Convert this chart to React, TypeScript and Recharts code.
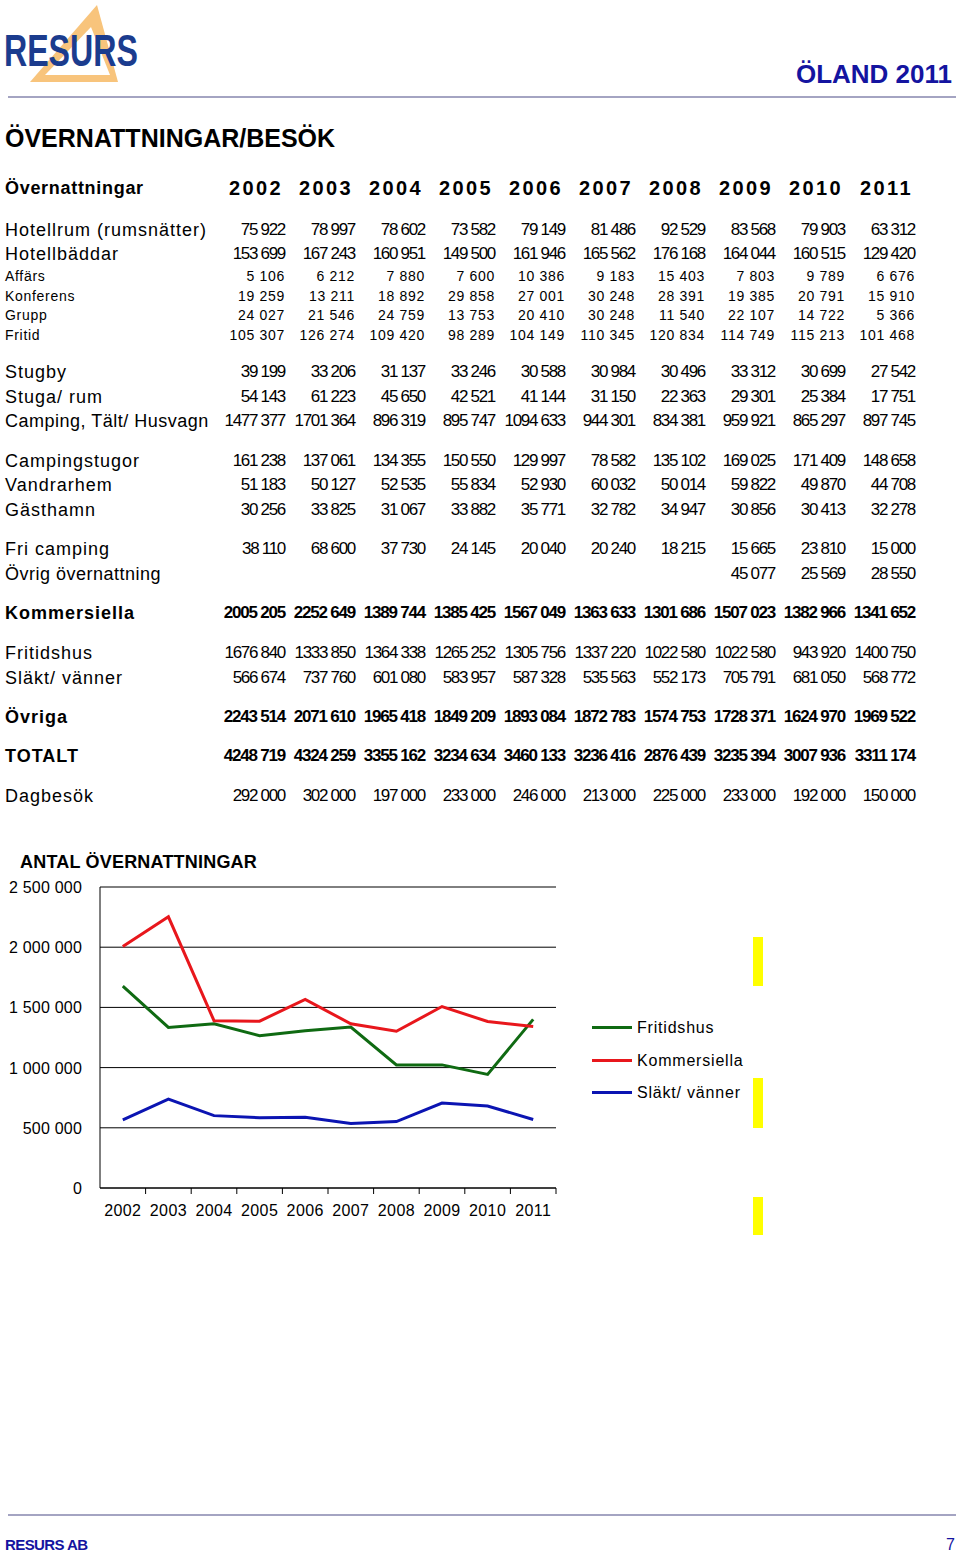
import { LineChart, Line, XAxis, YAxis, CartesianGrid } from 'recharts';

// years shown in the table header and on the chart axis
const years = ['2002', '2003', '2004', '2005', '2006', '2007', '2008', '2009', '2010', '2011'];

// table rows
const hotellrum = [75922, 78997, 78602, 73582, 79149, 81486, 92529, 83568, 79903, 63312];
const hotellbaddar = [153699, 167243, 160951, 149500, 161946, 165562, 176168, 164044, 160515, 129420];
const affars = [5106, 6212, 7880, 7600, 10386, 9183, 15403, 7803, 9789, 6676];
const konferens = [19259, 13211, 18892, 29858, 27001, 30248, 28391, 19385, 20791, 15910];
const grupp = [24027, 21546, 24759, 13753, 20410, 30248, 11540, 22107, 14722, 5366];
const fritid = [105307, 126274, 109420, 98289, 104149, 110345, 120834, 114749, 115213, 101468];
const stugby = [39199, 33206, 31137, 33246, 30588, 30984, 30496, 33312, 30699, 27542];
const stugaRum = [54143, 61223, 45650, 42521, 41144, 31150, 22363, 29301, 25384, 17751];
const camping = [1477377, 1701364, 896319, 895747, 1094633, 944301, 834381, 959921, 865297, 897745];
const campingstugor = [161238, 137061, 134355, 150550, 129997, 78582, 135102, 169025, 171409, 148658];
const vandrarhem = [51183, 50127, 52535, 55834, 52930, 60032, 50014, 59822, 49870, 44708];
const gasthamn = [30256, 33825, 31067, 33882, 35771, 32782, 34947, 30856, 30413, 32278];
const friCamping = [38110, 68600, 37730, 24145, 20040, 20240, 18215, 15665, 23810, 15000];
const ovrigOvernattning = [null, null, null, null, null, null, null, 45077, 25569, 28550];
const kommersiella = [2005205, 2252649, 1389744, 1385425, 1567049, 1363633, 1301686, 1507023, 1382966, 1341652];
const fritidshus = [1676840, 1333850, 1364338, 1265252, 1305756, 1337220, 1022580, 1022580, 943920, 1400750];
const slaktVanner = [566674, 737760, 601080, 583957, 587328, 535563, 552173, 705791, 681050, 568772];
const ovriga = [2243514, 2071610, 1965418, 1849209, 1893084, 1872783, 1574753, 1728371, 1624970, 1969522];
const totalt = [4248719, 4324259, 3355162, 3234634, 3460133, 3236416, 2876439, 3235394, 3007936, 3311174];
const dagbesok = [292000, 302000, 197000, 233000, 246000, 213000, 225000, 233000, 192000, 150000];

// chart
const yTicks = [0, 500000, 1000000, 1500000, 2000000, 2500000];
const seriesNames = ['Fritidshus', 'Kommersiella', 'Släkt/ vänner'];
const seriesColors = ['#0f6a12', '#e8171c', '#0b14b2'];

const chartData = years.map((y, i) => ({
  year: y,
  fritidshus: fritidshus[i],
  kommersiella: kommersiella[i],
  slakt: slaktVanner[i],
}));
const seriesKeys = ['fritidshus', 'kommersiella', 'slakt'];

const FONT = '"Liberation Sans", Arial, sans-serif';
const BLUE = '#1414a0';

type RowStyle = 'big' | 'small' | 'bold';
type Row = { label: string; y: number; values: (number | null)[]; style: RowStyle; tight?: boolean };

const rows: Row[] = [
  { label: 'Hotellrum (rumsnätter)', y: 230, values: hotellrum, style: 'big' },
  { label: 'Hotellbäddar', y: 254, values: hotellbaddar, style: 'big' },
  { label: 'Affärs', y: 276, values: affars, style: 'small' },
  { label: 'Konferens', y: 296, values: konferens, style: 'small' },
  { label: 'Grupp', y: 315, values: grupp, style: 'small' },
  { label: 'Fritid', y: 335, values: fritid, style: 'small' },
  { label: 'Stugby', y: 372, values: stugby, style: 'big' },
  { label: 'Stuga/ rum', y: 397, values: stugaRum, style: 'big' },
  { label: 'Camping, Tält/ Husvagn', y: 421, values: camping, style: 'big', tight: true },
  { label: 'Campingstugor', y: 461, values: campingstugor, style: 'big' },
  { label: 'Vandrarhem', y: 485, values: vandrarhem, style: 'big' },
  { label: 'Gästhamn', y: 510, values: gasthamn, style: 'big' },
  { label: 'Fri camping', y: 549, values: friCamping, style: 'big' },
  { label: 'Övrig övernattning', y: 574, values: ovrigOvernattning, style: 'big', tight: true },
  { label: 'Kommersiella', y: 613, values: kommersiella, style: 'bold' },
  { label: 'Fritidshus', y: 653, values: fritidshus, style: 'big' },
  { label: 'Släkt/ vänner', y: 678, values: slaktVanner, style: 'big' },
  { label: 'Övriga', y: 717, values: ovriga, style: 'bold' },
  { label: 'TOTALT', y: 756, values: totalt, style: 'bold' },
  { label: 'Dagbesök', y: 796, values: dagbesok, style: 'big' },
];

function fmt(n: number | null) {
  if (n == null) return '';
  const s = String(n);
  if (s.length <= 3) return s;
  const head = s.slice(0, s.length - 3);
  return `${head} ${s.slice(-3)}`;
}

function fmtAxis(n: number) {
  return String(n).replace(/\B(?=(\d{3})+(?!\d))/g, ' ');
}

const labelStyle: Record<RowStyle, React.CSSProperties> = {
  big: { fontSize: 18, letterSpacing: 1 },
  small: { fontSize: 14, letterSpacing: 0.7 },
  bold: { fontSize: 18, letterSpacing: 1, fontWeight: 'bold' },
};
const numStyle: Record<RowStyle, React.CSSProperties> = {
  big: { fontSize: 17, letterSpacing: -1.3 },
  small: { fontSize: 14, letterSpacing: 0.7 },
  bold: { fontSize: 17, letterSpacing: -1.2, fontWeight: 'bold' },
};

function Text({ x, y, right, style, children }: any) {
  return (
    <div
      style={{
        position: 'absolute',
        top: y - 12,
        height: 24,
        lineHeight: '24px',
        whiteSpace: 'nowrap',
        ...(right != null ? { right: 960 - right, textAlign: 'right' } : { left: x }),
        ...style,
      }}
    >
      {children}
    </div>
  );
}

// chart geometry
const CH_LEFT = 0;
const CH_TOP = 850;
const CH_W = 600;
const CH_H = 380;
const PLOT_L = 100;
const PLOT_R = 556;
const BAND = (PLOT_R - PLOT_L) / years.length;

function XTick({ x, y, payload }: any) {
  return (
    <g>
      <line x1={x + BAND / 2} x2={x + BAND / 2} y1={y - 8} y2={y - 2} stroke="#000" />
      <text x={x} y={y + 20} textAnchor="middle" fontSize={16} fontFamily={FONT} letterSpacing={0.4} fill="#000">
        {payload.value}
      </text>
    </g>
  );
}

function YTick({ x, y, payload }: any) {
  return (
    <text x={x} y={y + 6} textAnchor="end" fontSize={16} fontFamily={FONT} letterSpacing={0.2} fill="#000">
      {fmtAxis(payload.value)}
    </text>
  );
}

export default function App() {
  return (
    <div style={{ position: 'absolute', left: 0, top: 0, width: 960, height: 1556, background: '#fff', fontFamily: FONT, color: '#000' }}>
      {/* logo */}
      <svg style={{ position: 'absolute', left: 0, top: 0 }} width={150} height={90}>
        <polygon points="97,5 30,82 118,82" fill="#f8c47c" />
        <polygon points="91,27 45,75 110,75" fill="#fff" />
      </svg>
      <div
        style={{
          position: 'absolute',
          left: 4,
          top: 28,
          fontSize: 44,
          lineHeight: '46px',
          fontWeight: 'bold',
          color: '#1b3c8e',
          transform: 'scaleX(0.73)',
          transformOrigin: 'left center',
          whiteSpace: 'nowrap',
        }}
      >
        RESURS
      </div>
      <Text right={952} y={74} style={{ fontSize: 26, fontWeight: 'bold', color: BLUE }}>ÖLAND 2011</Text>
      <div style={{ position: 'absolute', left: 8, top: 96, width: 948, height: 2, background: '#a4a4c2' }} />

      <Text x={5} y={138} style={{ fontSize: 25, fontWeight: 'bold', letterSpacing: 0 }}>ÖVERNATTNINGAR/BESÖK</Text>

      <Text x={5} y={188} style={{ fontSize: 18, fontWeight: 'bold', letterSpacing: 0.7 }}>Övernattningar</Text>
      {years.map((yr, i) => (
        <Text key={yr} right={283 + 70 * i} y={188} style={{ fontSize: 20, fontWeight: 'bold', letterSpacing: 2.4 }}>
          {yr}
        </Text>
      ))}

      {rows.map((r) => (
        <div key={r.label}>
          <Text x={5} y={r.y} style={{ ...labelStyle[r.style], ...(r.tight ? { letterSpacing: 0.5 } : {}) }}>
            {r.label}
          </Text>
          {r.values.map((v, i) => (
            <Text key={i} right={285 + 70 * i} y={r.y} style={numStyle[r.style]}>{fmt(v)}</Text>
          ))}
        </div>
      ))}

      {/* chart */}
      <Text x={20} y={862} style={{ fontSize: 18, fontWeight: 'bold', letterSpacing: 0.2 }}>ANTAL ÖVERNATTNINGAR</Text>
      <div style={{ position: 'absolute', left: CH_LEFT, top: CH_TOP }}>
        <LineChart
          width={CH_W}
          height={CH_H}
          data={chartData}
          margin={{ top: 37, right: CH_W - PLOT_R, bottom: 12, left: 0 }}
        >
          <CartesianGrid vertical={false} stroke="#000" />
          <XAxis
            dataKey="year"
            stroke="#000"
            tickLine={false}
            tick={<XTick />}
            height={30}
            interval={0}
            padding={{ left: BAND / 2, right: BAND / 2 }}
          />
          <YAxis
            width={PLOT_L}
            domain={[0, 2500000]}
            ticks={yTicks}
            stroke="#000"
            tickLine={false}
            tick={<YTick />}
            tickSize={6}
            tickMargin={12}
          />
          {seriesKeys.map((k, i) => (
            <Line
              key={k}
              dataKey={k}
              type="linear"
              stroke={seriesColors[i]}
              strokeWidth={3}
              dot={false}
              isAnimationActive={false}
            />
          ))}
        </LineChart>
      </div>

      {/* legend */}
      {seriesNames.map((name, i) => (
        <div key={name}>
          <div style={{ position: 'absolute', left: 592, top: 1026 + 32.5 * i, width: 40, height: 3, background: seriesColors[i] }} />
          <Text x={637} y={1028 + 32.5 * i} style={{ fontSize: 16, letterSpacing: 0.8 }}>{name}</Text>
        </div>
      ))}

      {/* yellow marks */}
      <div style={{ position: 'absolute', left: 753, top: 937, width: 10, height: 49, background: '#ffff00' }} />
      <div style={{ position: 'absolute', left: 753, top: 1078, width: 10, height: 50, background: '#ffff00' }} />
      <div style={{ position: 'absolute', left: 753, top: 1197, width: 10, height: 38, background: '#ffff00' }} />

      {/* footer */}
      <div style={{ position: 'absolute', left: 8, top: 1514, width: 948, height: 2, background: '#a4a4c2' }} />
      <Text x={5} y={1545} style={{ fontSize: 15, fontWeight: 'bold', color: BLUE, letterSpacing: -0.6 }}>RESURS  AB</Text>
      <Text right={955} y={1545} style={{ fontSize: 16, color: BLUE }}>7</Text>
    </div>
  );
}
